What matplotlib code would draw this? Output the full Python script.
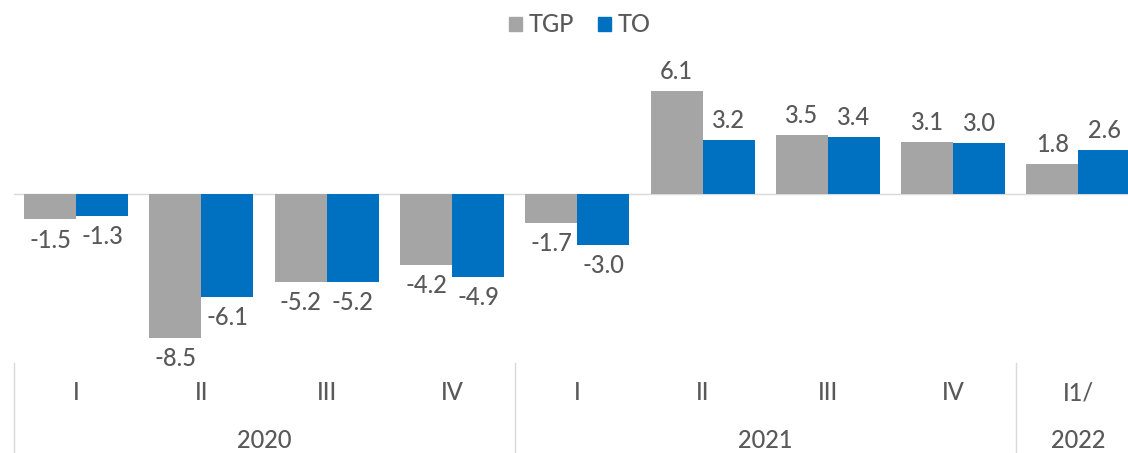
import numpy as np
import matplotlib.pyplot as plt
from matplotlib.patches import Patch

# Daten
quarters = ["I", "II", "III", "IV", "I", "II", "III", "IV", "I1/"]
years = ["2020", "2021", "2022"]
year_span = [4, 4, 1]
tgp = [-1.5, -8.5, -5.2, -4.2, -1.7, 6.1, 3.5, 3.1, 1.8]
to = [-1.3, -6.1, -5.2, -4.9, -3.0, 3.2, 3.4, 3.0, 2.6]

grey = "#A5A5A5"
blue = "#0070C0"
txt = "#595959"
fs = 17
plt.rcParams["font.family"] = ["Lato", "DejaVu Sans"]
plt.rcParams["font.weight"] = "medium"

W, H = 1128, 453
fig = plt.figure(figsize=(W / 100, H / 100), dpi=100)
# Achsenbereich in Pixeln (rechts etwas abgeschnitten wie im Original)
left, right = 13.5, 1141
top, bottom = 58.8, 363
ax = fig.add_axes([left / W, 1 - bottom / H, (right - left) / W, (bottom - top) / H])

x = np.arange(len(quarters))
bw = 0.415
b1 = ax.bar(x - bw / 2, tgp, bw, color=grey, label="TGP")
b2 = ax.bar(x + bw / 2, to, bw, color=blue, label="TO")

ax.set_xlim(-0.5, len(quarters) - 0.5)
ax.set_ylim(-10, 8)
ax.axhline(0, color="#D9D9D9", lw=1, zorder=0)

for bars, vals in [(b1, tgp), (b2, to)]:
    for b, v in zip(bars, vals):
        off = 14 if v > 0 else -15
        ax.annotate(f"{v:.1f}", (b.get_x() + b.get_width() / 2, v),
                    xytext=(0, off), textcoords="offset points",
                    ha="center", va="center", fontsize=fs, color=txt)

for s in ax.spines.values():
    s.set_visible(False)
ax.set_xticks([])
ax.set_yticks([])

# zweistufige Kategorieachse
trans = ax.get_xaxis_transform()
for i, q in enumerate(quarters):
    ax.text(i, -(393 - bottom) / (bottom - top), q, transform=trans,
            ha="center", va="center", fontsize=fs, color=txt, clip_on=False)
start = 0
bounds = [0]
for yr, n in zip(years, year_span):
    mid = start + (n - 1) / 2
    ax.text(mid, -(440 - bottom) / (bottom - top), yr, transform=trans,
            ha="center", va="center", fontsize=fs, color=txt, clip_on=False)
    start += n
    bounds.append(start)
for bnd in bounds[:-1]:
    ax.plot([bnd - 0.5, bnd - 0.5], [0, -(H - bottom) / (bottom - top)],
            transform=trans, color="#D9D9D9", lw=1, clip_on=False)

handles = [Patch(color=grey, label="TGP"), Patch(color=blue, label="TO")]
fig.legend(handles=handles, loc="center", bbox_to_anchor=(580 / W, 1 - 25 / H),
           ncol=2, frameon=False, fontsize=fs, handlelength=0.55, handleheight=0.55,
           handletextpad=0.3, columnspacing=1.0, labelcolor=txt)

fig.savefig("out.png", dpi=100)
